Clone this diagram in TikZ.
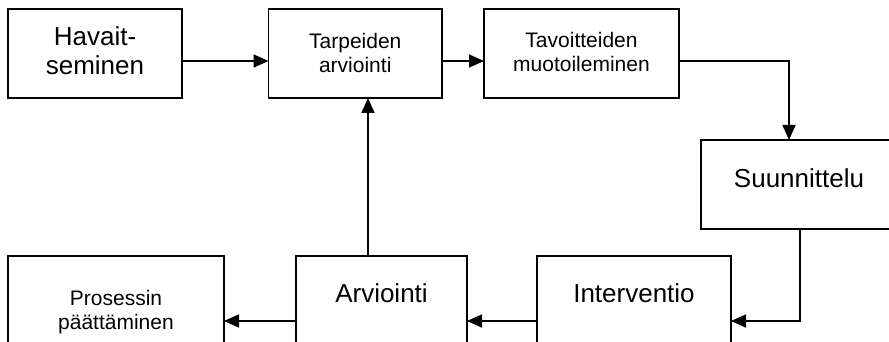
\documentclass[tikz,border=0pt]{standalone}
\usepackage{fontspec}
\setmainfont{Liberation Sans}
\usetikzlibrary{arrows.meta}
\tikzset{
  box/.style={draw=black, line width=1.7pt, inner sep=0pt, outer sep=0pt, fill=white},
  bigtxt/.style={font=\fontsize{26}{29}\selectfont, inner sep=0pt, align=center},
  smalltxt/.style={font=\fontsize{21}{24}\selectfont, inner sep=0pt, align=center},
  arr/.style={line width=1.7pt, -{Triangle[length=15pt,width=13pt]}},
}
\begin{document}
\begin{tikzpicture}[x=1pt,y=-1pt]
\useasboundingbox (0,0) rectangle (889,342);
\fill[white] (0,0) rectangle (889,342);
\clip (0,0) rectangle (889,342);
% boxes
\node[box, minimum width=174pt, minimum height=89pt] (hav) at (95,53.5) {};
\node[box, minimum width=173.5pt, minimum height=89pt] (tar) at (355.25,53.5) {};
\node[box, minimum width=195pt, minimum height=89pt] (tav) at (581.5,53.5) {};
\node[box, minimum width=196pt, minimum height=89pt] (suu) at (799,184.5) {};
\node[box, minimum width=194pt, minimum height=89pt] (int) at (634,300.5) {};
\node[box, minimum width=171pt, minimum height=89pt] (arv) at (381.5,300.5) {};
\node[box, minimum width=216pt, minimum height=89pt] (pro) at (116,300.5) {};
% texts
\node[bigtxt] (havT) at (95,51.2) {Havait-\\seminen};
\node[smalltxt] (tarT) at (355.25,52.8) {Tarpeiden\\arviointi};
\node[smalltxt] (tavT) at (581.5,52.2) {Tavoitteiden\\muotoileminen};
\node[bigtxt] (suuT) at (799,178.7) {Suunnittelu};
\node[bigtxt] (intT) at (634,293.7) {Interventio};
\node[bigtxt] (arvT) at (381.5,293.7) {Arviointi};
\node[smalltxt] (proT) at (116,311.7) {Prosessin\\päättäminen};
% helper coordinates
\coordinate (rowTop) at (0,61);
\coordinate (rowBot) at (0,321);
\coordinate (colA) at (789,0);
\coordinate (colB) at (800,0);
\coordinate (colC) at (368,0);
% connectors
\draw[arr] (hav.east |- rowTop) -- (tar.west |- rowTop);
\draw[arr] (tar.east |- rowTop) -- (tav.west |- rowTop);
\draw[arr] (tav.east |- rowTop) -| (colA |- suu.north);
\draw[arr] (colB |- suu.south) |- (int.east |- rowBot);
\draw[arr] (int.west |- rowBot) -- (arv.east |- rowBot);
\draw[arr] (arv.west |- rowBot) -- (pro.east |- rowBot);
\draw[arr] (colC |- arv.north) -- (colC |- tar.south);
\end{tikzpicture}
\end{document}
